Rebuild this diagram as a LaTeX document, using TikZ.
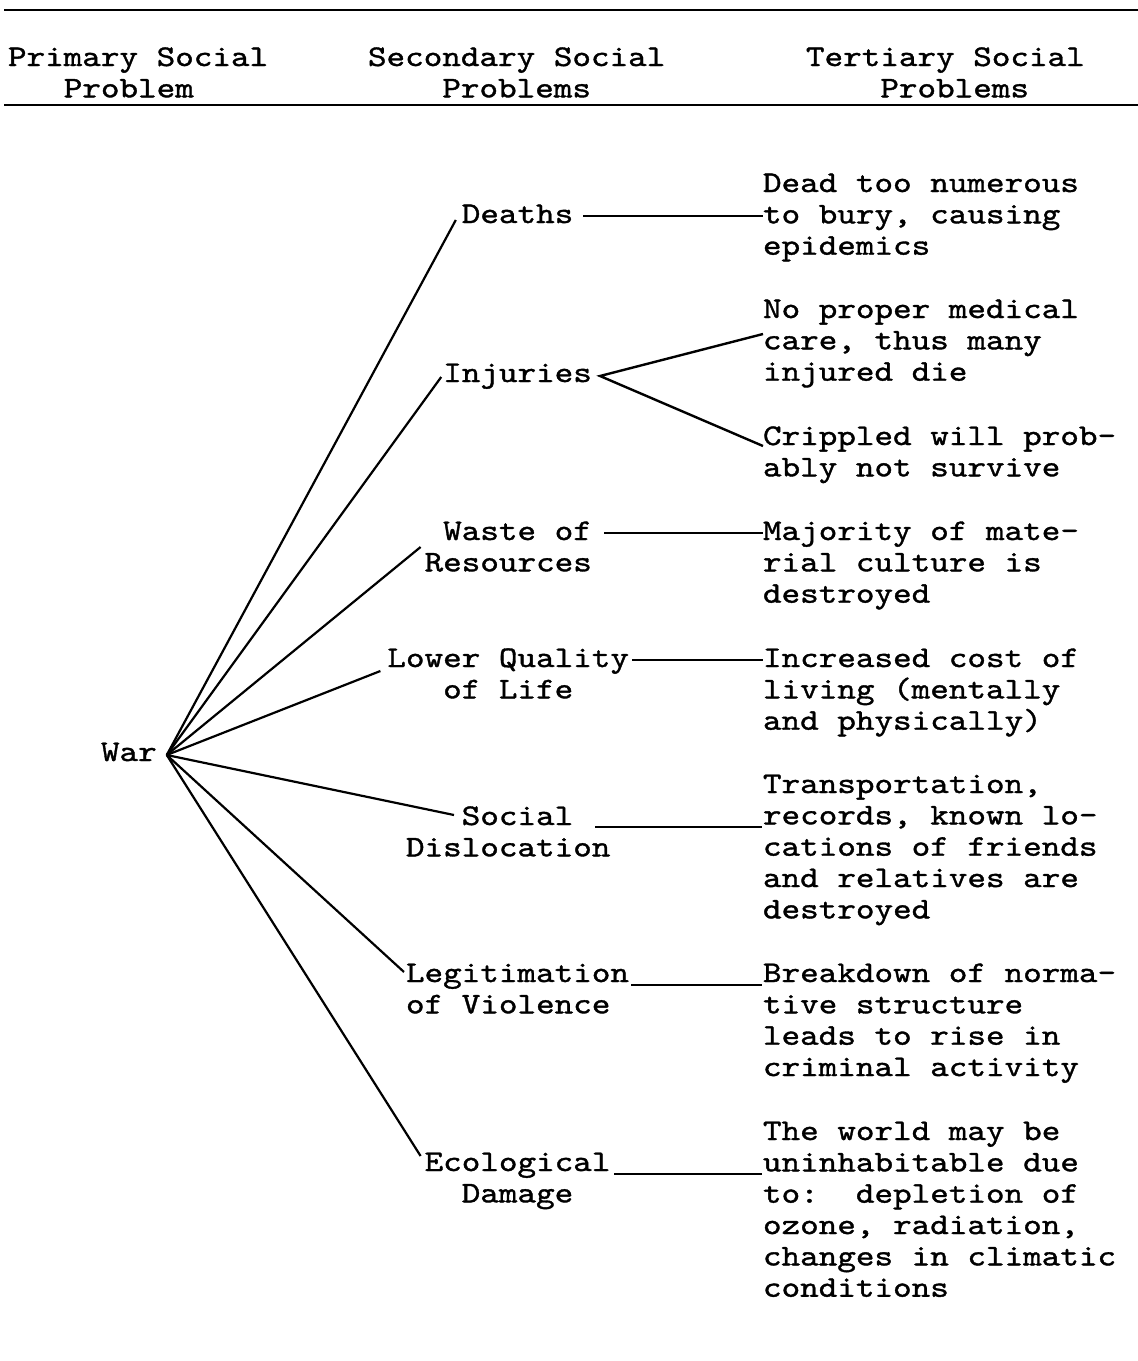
\documentclass[tikz,border=0pt]{standalone}
\usepackage{fontspec}
\newfontfamily\tw{lmmono10-regular.otf}[FakeStretch=1.18, FakeBold=1.2]
\newcommand\tlines[1]{\vtop{\baselineskip=31.35pt\lineskiplimit=-100pt\lineskip=0pt\halign{##\hfil\cr#1\crcr}}}
\begin{document}
\begin{tikzpicture}[x=1pt,y=-1pt,
  txt/.style={inner sep=0pt, outer sep=0pt, anchor=base west, font=\tw\fontsize{30}{31.35}\selectfont},
  rulel/.style={line width=2.6pt},
  fan/.style={line width=2.2pt},
  conn/.style={line width=2.4pt}]
\useasboundingbox[fill=white] (0,0) rectangle (1138,1361);
% header rules
\coordinate (r1a) at (4,10);   \coordinate (r1b) at (1138,10);
\coordinate (r2a) at (4,105);  \coordinate (r2b) at (1138,105);
\draw[rulel] (r1a) -- (r1b);
\draw[rulel] (r2a) -- (r2b);
% headers
\node[txt] (h1) at (8,66)   {\tlines{Primary Social\cr\ \ \ Problem}};
\node[txt] (h2) at (368,66) {\tlines{Secondary Social\cr\ \ \ \ Problems}};
\node[txt] (h3) at (806,66) {\tlines{Tertiary Social\cr\ \ \ \ Problems}};
% primary
\node[txt] (war) at (101,761) {War};
% secondary
\node[txt] (deaths)   at (461.8,223) {Deaths};
\node[txt] (injuries) at (443.2,382) {Injuries};
\node[txt] (waste)    at (424.6,540) {\tlines{\ Waste of\cr Resources}};
\node[txt] (lower)    at (387.4,667) {\tlines{Lower Quality\cr\ \ \ of Life}};
\node[txt] (social)   at (406,825)   {\tlines{\ \ \ Social\cr Dislocation}};
\node[txt] (legit)    at (406,982)   {\tlines{Legitimation\cr of Violence}};
\node[txt] (eco)      at (424.6,1171){\tlines{Ecological\cr\ \ Damage}};
% tertiary
\node[txt] (t1) at (763,192) {\tlines{Dead too numerous\cr to bury, causing\cr epidemics}};
\node[txt] (t2) at (763,318) {\tlines{No proper medical\cr care, thus many\cr injured die}};
\node[txt] (t3) at (763,445) {\tlines{Crippled will prob-\cr ably not survive}};
\node[txt] (t4) at (763,540) {\tlines{Majority of mate-\cr rial culture is\cr destroyed}};
\node[txt] (t5) at (763,667) {\tlines{Increased cost of\cr living (mentally\cr and physically)}};
\node[txt] (t6) at (763,793) {\tlines{Transportation,\cr records, known lo-\cr cations of friends\cr and relatives are\cr destroyed}};
\node[txt] (t7) at (763,982) {\tlines{Breakdown of norma-\cr tive structure\cr leads to rise in\cr criminal activity}};
\node[txt] (t8) at (763,1140){\tlines{The world may be\cr uninhabitable due\cr to:\ \ depletion of\cr ozone, radiation,\cr changes in climatic\cr conditions}};
% fan from War
\coordinate (wv) at ([shift={(10,-6)}]war.base east);
\coordinate (eD) at ([shift={(-6,-3)}]deaths.base west);
\coordinate (eI) at ([shift={(-2,-5)}]injuries.base west);
\coordinate (eW) at ([shift={(-4,7)}]waste.base west);
\coordinate (eL) at ([shift={(-7,4)}]lower.base west);
\coordinate (eS) at ([shift={(48,-10)}]social.base west);
\coordinate (eV) at ([shift={(-2,-10)}]legit.base west);
\coordinate (eE) at ([shift={(-4,-15)}]eco.base west);
\foreach \e in {eD,eI,eW,eL,eS,eV,eE} \draw[fan] (wv) -- (\e);
% secondary to tertiary
\coordinate (cD1) at (583,216);  \coordinate (cD2) at (763,216);
\coordinate (cIv) at (600,376);  \coordinate (cI1) at (763,334); \coordinate (cI2) at (763,446);
\coordinate (cW1) at (604,533);  \coordinate (cW2) at (763,533);
\coordinate (cL1) at (632,660);  \coordinate (cL2) at (763,660);
\coordinate (cS1) at (595,827);  \coordinate (cS2) at (762,827);
\coordinate (cV1) at (631,985);  \coordinate (cV2) at (762,985);
\coordinate (cE1) at (614,1174); \coordinate (cE2) at (762,1174);
\draw[conn] (cD1) -- (cD2);
\draw[conn] (cI1) -- (cIv) -- (cI2);
\draw[conn] (cW1) -- (cW2);
\draw[conn] (cL1) -- (cL2);
\draw[conn] (cS1) -- (cS2);
\draw[conn] (cV1) -- (cV2);
\draw[conn] (cE1) -- (cE2);
\end{tikzpicture}
\end{document}
